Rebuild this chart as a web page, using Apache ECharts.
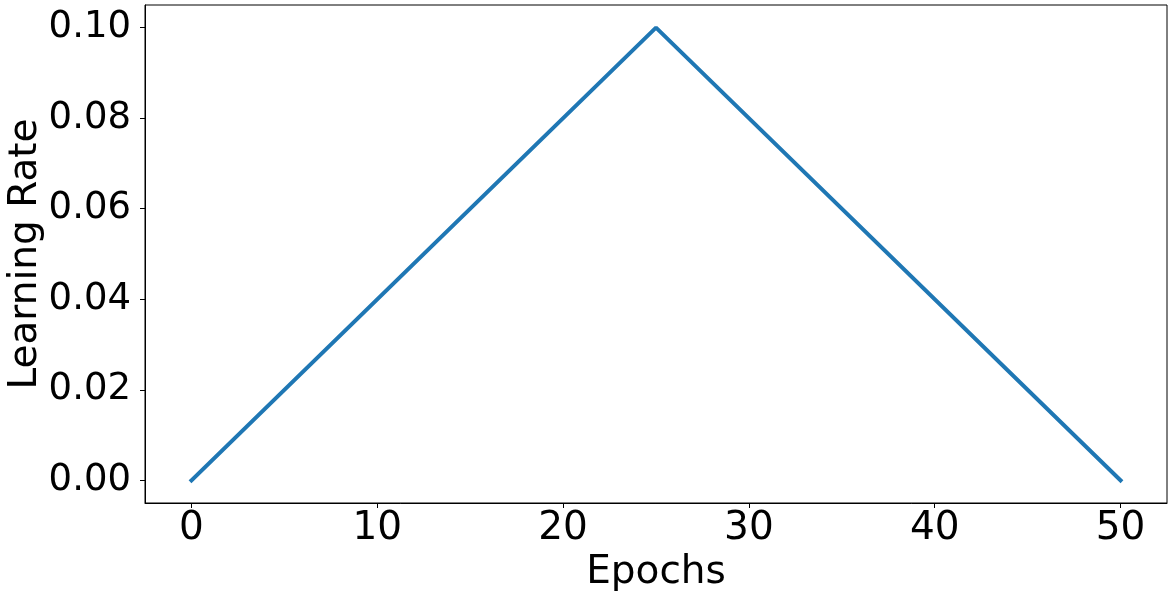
<!DOCTYPE html>
<html>
<head>
<meta charset="utf-8">
<script src="https://cdn.jsdelivr.net/npm/echarts@6/dist/echarts.min.js"></script>
<style>
  html, body { margin: 0; padding: 0; background: #fff; }
</style>
</head>
<body>
<div id="chart" style="width: 1172px; height: 596px"></div>
<script>
// data
const epochs = [0, 25, 50];
const learningRate = [0, 0.1, 0];
const xTicks = [0, 10, 20, 30, 40, 50];
const yTicks = [0, 0.02, 0.04, 0.06, 0.08, 0.1];

const font = "DejaVu Sans";
const chart = echarts.init(document.getElementById("chart"));
chart.setOption({
  animation: false,
  grid: {
    left: 145,
    top: 5,
    right: 5,
    bottom: 93,
    outerBoundsMode: "none",
    containLabel: false,
    show: true,
    borderColor: "#000",
    borderWidth: 1,
  },
  xAxis: {
    type: "value",
    min: -2.5,
    max: 52.5,
    name: "Epochs",
    nameLocation: "middle",
    nameGap: 50,
    nameMoveOverlap: false,
    nameTextStyle: { fontFamily: font, fontSize: 39, color: "#000" },
    axisLine: { show: true, onZero: false, lineStyle: { color: "#000", width: 1 } },
    axisTick: {
      show: true,
      inside: false,
      length: 5,
      customValues: xTicks,
      lineStyle: { color: "#000", width: 1 },
    },
    axisLabel: {
      customValues: xTicks,
      margin: 6,
      fontFamily: font,
      fontSize: 39,
      color: "#000",
    },
    splitLine: { show: false },
  },
  yAxis: {
    type: "value",
    min: -0.005,
    max: 0.105,
    name: "Learning Rate",
    nameLocation: "middle",
    nameGap: 100,
    nameMoveOverlap: false,
    nameTextStyle: { fontFamily: font, fontSize: 39, color: "#000" },
    axisLine: { show: true, onZero: false, lineStyle: { color: "#000", width: 1 } },
    axisTick: {
      show: true,
      inside: false,
      length: 5,
      customValues: yTicks,
      lineStyle: { color: "#000", width: 1 },
    },
    axisLabel: {
      customValues: yTicks,
      margin: 14,
      fontFamily: font,
      fontSize: 37,
      color: "#000",
      formatter: (v) => v.toFixed(2),
    },
    splitLine: { show: false },
  },
  series: [
    {
      type: "line",
      data: epochs.map((e, i) => [e, learningRate[i]]),
      showSymbol: false,
      lineStyle: { color: "#1f77b4", width: 4, cap: "square" },
    },
  ],
});
</script>
</body>
</html>
